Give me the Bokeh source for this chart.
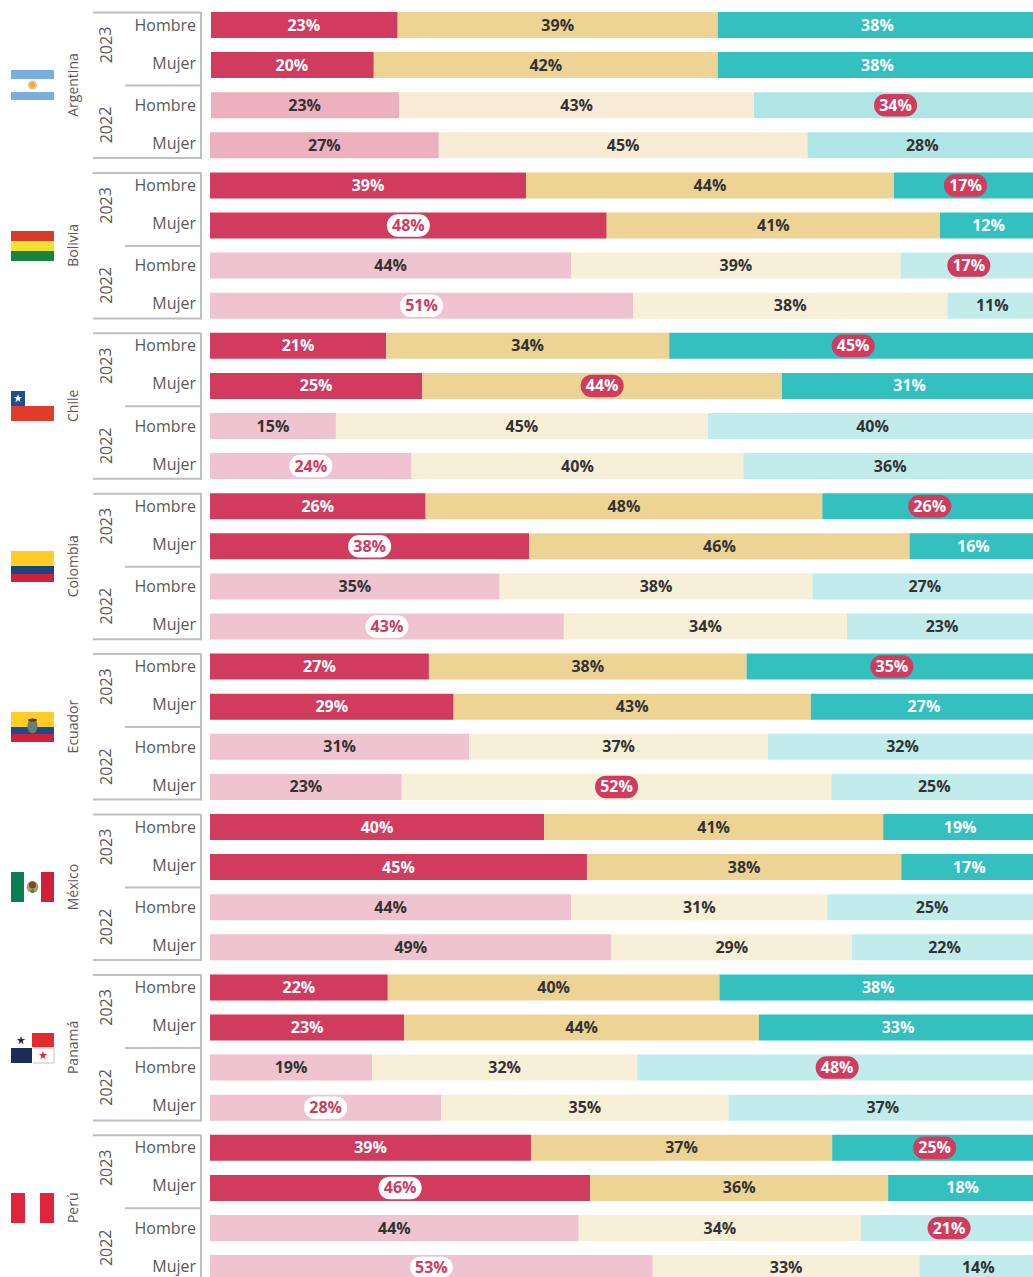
from bokeh.plotting import figure
from bokeh.models import Range1d
from bokeh.core.properties import value
from bokeh.embed import file_html
from bokeh.resources import INLINE

countries = ["Argentina", "Bolivia", "Chile", "Colombia", "Ecuador", "México", "Panamá", "Perú"]
years = ["2023", "2022"]
sexes = ["Hombre", "Mujer"]

# order in each country: 2023 Hombre, 2023 Mujer, 2022 Hombre, 2022 Mujer
seg_a = [22.8, 19.9, 23.0, 27.8,  38.4, 48.2, 43.9, 51.4,  21.4, 25.8, 15.3, 24.5,  26.2, 38.8, 35.2, 43.0,
         26.6, 29.6, 31.5, 23.3,  40.6, 45.8, 43.9, 48.8,  21.6, 23.6, 19.7, 28.1,  39.0, 46.2, 44.8, 53.8]
seg_b = [38.9, 41.8, 43.1, 44.8,  44.7, 40.5, 40.0, 38.2,  34.4, 43.7, 45.2, 40.3,  48.2, 46.2, 38.0, 34.4,
         38.6, 43.4, 36.3, 52.2,  41.2, 38.2, 31.1, 29.2,  40.3, 43.1, 32.2, 34.9,  36.6, 36.2, 34.3, 32.4]
seg_c = [38.3, 38.3, 33.9, 27.3,  16.9, 11.3, 16.2, 10.4,  44.2, 30.5, 39.5, 35.1,  25.5, 15.1, 26.7, 22.6,
         34.8, 27.0, 32.2, 24.4,  18.2, 16.0, 25.0, 22.0,  38.0, 33.3, 48.1, 37.1,  24.4, 17.6, 20.9, 13.7]
lab_a = [23, 20, 23, 27,  39, 48, 44, 51,  21, 25, 15, 24,  26, 38, 35, 43,
         27, 29, 31, 23,  40, 45, 44, 49,  22, 23, 19, 28,  39, 46, 44, 53]
lab_b = [39, 42, 43, 45,  44, 41, 39, 38,  34, 44, 45, 40,  48, 46, 38, 34,
         38, 43, 37, 52,  41, 38, 31, 29,  40, 44, 32, 35,  37, 36, 34, 33]
lab_c = [38, 38, 34, 28,  17, 12, 17, 11,  45, 31, 40, 36,  26, 16, 27, 23,
         35, 27, 32, 25,  19, 17, 25, 22,  38, 33, 48, 37,  25, 18, 21, 14]
# highlighted labels: (row, segment)
highlights = [(2, 2), (4, 2), (5, 0), (6, 2), (7, 0), (8, 2), (9, 1), (11, 0), (12, 2), (13, 0), (15, 0),
              (16, 2), (19, 1), (26, 2), (27, 0), (28, 2), (29, 0), (30, 2), (31, 0)]

CRIMSON, BEIGE, TEAL = "#D03B5E", "#EDD495", "#33C0BF"
PINK, CREAM, AQUA = "#EFC3CF", "#F8EFD8", "#C1ECEB"
PINK_A, CREAM_A, AQUA_A = "#ECB0BE", "#F8ECD6", "#AFE5E4"
GRAY, DARK, RULE = "#595959", "#333333", "#BFBFBF"

PX_PER_PCT = 8.23
X0, ROW0, PITCH, GROUP = 209.5, 24.5, 40.1, 160.4
W, H = 1033, 1277
BAR_H = 26 / PITCH
FONT = value("Open Sans")

p = figure(width=W, height=H, output_backend="svg", toolbar_location=None,
           x_axis_location=None, y_axis_location=None, min_border=0,
           x_range=Range1d(-X0 / PX_PER_PCT, (W - X0) / PX_PER_PCT),
           y_range=Range1d((H - ROW0) / PITCH, -ROW0 / PITCH))
p.grid.visible = False
p.outline_line_color = None
p.extra_x_ranges["px"] = Range1d(0.5, W + 0.5)
p.extra_y_ranges["px"] = Range1d(H + 0.5, 0.5)
PX = dict(x_range_name="px", y_range_name="px")

rows = list(range(len(seg_a)))
left_a = [0.12 if i < 3 else 0 for i in rows]
left_b = seg_a
left_c = [a + b for a, b in zip(seg_a, seg_b)]
END = 100.5  # the last segment runs just past the picture's edge


def col(dark, light, arg):
    return [dark if i % 4 < 2 else (arg if i < 4 else light) for i in rows]


for l, r, c in [(left_a, left_b, col(CRIMSON, PINK, PINK_A)),
                (left_b, left_c, col(BEIGE, CREAM, CREAM_A)),
                (left_c, [END] * len(rows), col(TEAL, AQUA, AQUA_A))]:
    p.hbar(y=rows, left=l, right=r, height=BAR_H, fill_color=c, line_color=None)

# value labels and pills
hl = set(highlights)
tx, ty, tt, tc, to = [], [], [], [], []
px_, py_, pc = [], [], []
for i in rows:
    spans = [(0, left_b[i], lab_a[i]), (left_b[i], left_c[i], lab_b[i]), (left_c[i], END, lab_c[i])]
    for s, (a, b, v) in enumerate(spans):
        cx = (a + b) / 2
        tx.append(cx); ty.append(i); tt.append(f"{v}%")
        to.append(-1.5 if i == rows[-1] else -0.5)
        if (i, s) in hl:
            px_.append(cx); py_.append(i)
            pc.append("#FFFFFF" if s == 0 else CRIMSON)
            tc.append(CRIMSON if s == 0 else "#FFFFFF")
        else:
            tc.append("#FFFFFF" if (i % 4 < 2 and (s == 0 or s == 2)) else DARK)
PILL_W = 43 / PX_PER_PCT
p.hbar(y=py_, left=[x - PILL_W / 2 for x in px_], right=[x + PILL_W / 2 for x in px_], height=22.5 / PITCH,
       fill_color=pc, line_color=None, border_radius=11)
p.text(x=tx, y=ty, text=tt, text_color=tc, text_font=FONT, text_font_style="bold", text_font_size="16px",
       text_align="center", text_baseline="middle", y_offset=to)

# left-hand labels and brackets
sx, sy, st = [], [], []
yx, yy, yt = [], [], []
cx_, cy_, ct = [], [], []
for g, name in enumerate(countries):
    o = g * GROUP
    for k, dy in enumerate([0, 38, 80.5, 118.5]):
        sx.append(196); sy.append(25 + o + dy - 0.5); st.append(sexes[k % 2])
    yy += [45 + o, 125 + o]; yx += [105.5, 105.5]; yt += years
    cx_.append(72.5); cy_.append(85 + o); ct.append(name)
    for x0, y0, x1, y1 in [(93, 12.5, 201, 12.5), (93, 158, 201, 158), (125, 85.5, 201, 85.5), (201, 12, 201, 159)]:
        p.line([x0, x1], [y0 + o, y1 + o], line_color=RULE, line_width=2, **PX)

p.text(x=sx, y=sy, text=st, text_color=GRAY, text_font=FONT, text_font_size="16px",
       text_align="right", text_baseline="middle", **PX)
p.text(x=yx, y=yy, text=yt, text_color=GRAY, text_font=FONT, text_font_size="16px", angle=1.5708,
       text_align="center", text_baseline="middle", **PX)
p.text(x=cx_, y=cy_, text=ct, text_color=GRAY, text_font=FONT, text_font_size="14px", angle=1.5708,
       text_align="center", text_baseline="middle", **PX)


# flags
def box(l, r, t, b, c):
    p.quad(left=l, right=r, top=t, bottom=b, fill_color=c, line_color=None, **PX)


def dot(x, y, size, c, marker="circle"):
    p.scatter([x], [y], size=size, fill_color=c, line_color=None, marker=marker, **PX)


def oval(x, y, w, h, c):
    p.ellipse(x=[x], y=[y], width=w, height=h, fill_color=c, line_color=None, **PX)


# Argentina
box(11, 54, 70, 79, "#79AEDF"); box(11, 54, 92, 100, "#79AEDF")
dot(32.5, 85, 9, "#F0C070"); dot(32.5, 85, 5, "#E8A840")
# Bolivia
box(11, 54, 231, 241, "#D83A2C"); box(11, 54, 241, 251, "#F5E12D"); box(11, 54, 251, 261, "#188442")
# Chile
box(25, 54, 391, 406, "#FFFFFF"); box(11, 54, 406, 421, "#E03C2C"); box(11, 25, 391, 406, "#1F4E96")
dot(18, 398.5, 9, "#FFFFFF", "star")
# Colombia
box(11, 54, 551, 566, "#FFCD26"); box(11, 54, 566, 574, "#1B4580"); box(11, 54, 574, 582, "#CE2039")
# Ecuador
box(11, 54, 712, 727, "#FFCD26"); box(11, 54, 727, 734, "#1B4A94"); box(11, 54, 734, 742, "#CE2039")
oval(32.5, 726, 10, 15, "#7B7A50"); oval(32.5, 727, 5, 8, "#4F83A0"); oval(32.5, 720, 9, 3, "#54402A")
# México
box(11, 24, 872, 902, "#0B7E55"); box(41, 54, 872, 902, "#CE2039")
dot(32.5, 887, 12, "#B59A6A"); dot(32.5, 885, 7, "#7A4A28"); dot(32.5, 891, 4, "#3F8C5A")
# Panamá
box(32, 54, 1033, 1047, "#E22B2E"); box(11, 32, 1048, 1063, "#1B2C58")
box(32, 54, 1048, 1063, "#FFFFFF")
p.line([33, 54, 54, 33], [1063, 1063, 1048, 1048], line_color="#DDB3C0", line_width=1, **PX)
dot(21, 1040.5, 9, "#1B2C58", "star"); dot(43, 1055.5, 9, "#E22B2E", "star")
# Perú
box(11, 25, 1193, 1223, "#E0243B"); box(40, 54, 1193, 1223, "#E0243B")

open("out.html", "w").write(file_html(p, INLINE))
